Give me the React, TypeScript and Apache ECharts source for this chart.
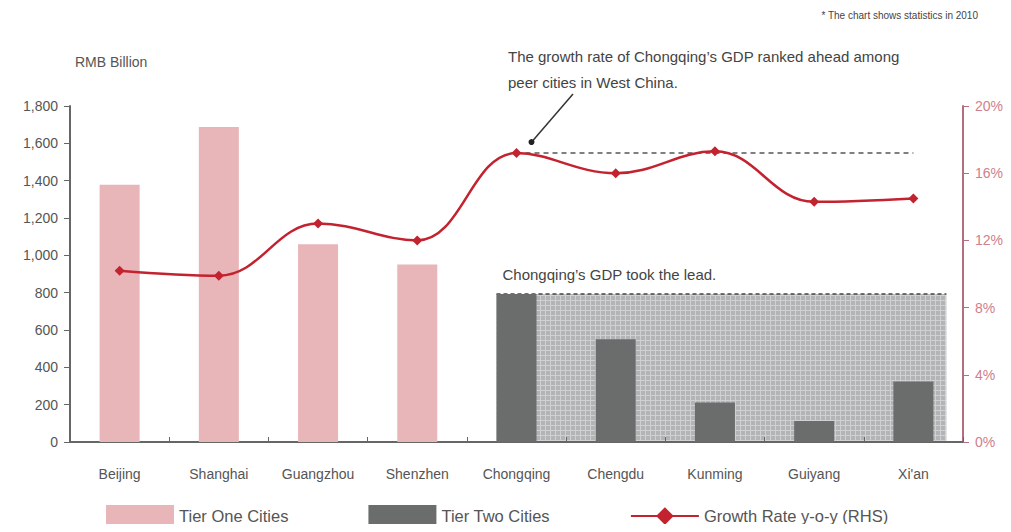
import React, { useEffect, useRef } from "react";
import * as echarts from "echarts";

const categories = ["Beijing", "Shanghai", "Guangzhou", "Shenzhen", "Chongqing", "Chengdu", "Kunming", "Guiyang", "Xi'an"];
const tierOne: (number | string)[] = [1378, 1687, 1060, 951, "-", "-", "-", "-", "-"];
const tierTwo: (number | string)[] = ["-", "-", "-", "-", 793, 551, 212, 112, 324];
const growth = [10.2, 9.9, 13.0, 12.0, 17.2, 16.0, 17.3, 14.3, 14.5];
const leftTicks = { min: 0, max: 1800, interval: 200 };
const rightTicks = { min: 0, max: 20, interval: 4 };

const RED = "#c3222f";
const GREY_TXT = "#555555";

function makePattern(): HTMLCanvasElement {
  const c = document.createElement("canvas");
  c.width = 5;
  c.height = 5;
  const ctx = c.getContext("2d")!;
  ctx.fillStyle = "#b2b4b6";
  ctx.fillRect(0, 0, 5, 5);
  ctx.fillStyle = "#d0d1d2";
  ctx.fillRect(0, 0, 1, 5);
  ctx.fillRect(0, 0, 5, 1);
  return c;
}

export default function App() {
  const ref = useRef<HTMLDivElement>(null);
  useEffect(() => {
    if (!ref.current) return;
    const chart = echarts.init(ref.current, undefined, { renderer: "svg" });
    const font = "Arial, 'Liberation Sans', sans-serif";
    chart.setOption({
      animation: false,
      textStyle: { fontFamily: font },
      grid: { left: 70, right: 48, top: 106, bottom: 90 },
      xAxis: {
        type: "category",
        data: categories,
        axisLine: { lineStyle: { color: "#666", width: 2 } },
        axisTick: { show: true, length: 5, inside: true, lineStyle: { color: "#666" } },
        axisLabel: { color: GREY_TXT, fontSize: 14, margin: 25 },
      },
      yAxis: [
        {
          type: "value",
          ...leftTicks,
          axisLine: { show: true, lineStyle: { color: "#666", width: 2 } },
          axisTick: { show: true, length: 6, lineStyle: { color: "#666" } },
          splitLine: { show: false },
          axisLabel: {
            color: GREY_TXT,
            fontSize: 14,
            margin: 12,
            formatter: (v: number) => v.toLocaleString("en-US"),
          },
        },
        {
          type: "value",
          ...rightTicks,
          position: "right",
          axisLine: { show: true, lineStyle: { color: "#b07080", width: 2 } },
          axisTick: { show: true, length: 6, lineStyle: { color: "#b07080" } },
          splitLine: { show: false },
          axisLabel: { color: "#d0808c", fontSize: 14, margin: 12, formatter: "{value}%" },
        },
      ],
      legend: {
        bottom: 0,
        left: 101,
        itemGap: 80,
        itemWidth: 68,
        itemHeight: 22,
        textStyle: { color: GREY_TXT, fontSize: 16.5 },
        data: [
          { name: "Tier One Cities", icon: "rect" },
          { name: "Tier Two Cities", icon: "rect" },
          { name: "Growth Rate y-o-y (RHS)" },
        ],
      },
      series: [
        {
          name: "Tier One Cities",
          type: "bar",
          stack: "gdp",
          barWidth: 40,
          data: tierOne,
          itemStyle: { color: "#e8b5b9" },
        },
        {
          name: "Tier Two Cities",
          type: "bar",
          stack: "gdp",
          barWidth: 40,
          data: tierTwo,
          itemStyle: { color: "#6b6d6d" },
          z: 3,
        },
        {
          name: "Growth Rate y-o-y (RHS)",
          type: "line",
          yAxisIndex: 1,
          smooth: 0.4,
          data: growth,
          symbol: "diamond",
          symbolSize: 10,
          lineStyle: { color: RED, width: 2.5 },
          itemStyle: { color: RED },
          z: 5,
          markLine: {
            silent: true,
            symbol: "none",
            label: { show: false },
            lineStyle: { color: "#555", type: [5, 4], width: 1.5 },
            data: [
              [
                { coord: [categories[4], growth[4]] },
                { coord: [categories[8], growth[4]] },
              ],
            ],
          },
        },
      ],
    });

    // Highlight region behind tier-two bars, computed from the axes
    const cqIdx = 4;
    const lastIdx = categories.length - 1;
    const cqTop = chart.convertToPixel({ seriesIndex: 1 }, [cqIdx, tierTwo[cqIdx] as number]) as number[];
    const base = chart.convertToPixel({ seriesIndex: 1 }, [cqIdx, 0]) as number[];
    const lastC = chart.convertToPixel({ seriesIndex: 1 }, [lastIdx, 0]) as number[];
    const x0 = cqTop[0] - 20;
    const x1 = lastC[0] + 33;
    const y0 = cqTop[1];
    const y1 = base[1] - 1;
    const cqPt = chart.convertToPixel({ seriesIndex: 2 }, [cqIdx, growth[cqIdx]]) as number[];

    chart.setOption({
      graphic: [
        {
          type: "rect",
          shape: { x: x0, y: y0, width: x1 - x0, height: y1 - y0 },
          style: { fill: { image: makePattern(), repeat: "repeat" } as any },
          z: 0,
          silent: true,
        },
        {
          type: "line",
          shape: { x1: x0, y1: y0, x2: x1, y2: y0 },
          style: { stroke: "#444", lineDash: [4, 3], lineWidth: 1.5 },
          z: 0,
          silent: true,
        },
        {
          type: "text",
          x: x0 + 6,
          y: y0 - 27,
          style: { text: "Chongqing\u2019s GDP took the lead.", fill: "#444", fontSize: 15, fontFamily: font },
        },
        {
          type: "text",
          x: 508,
          y: 43,
          style: {
            text: "The growth rate of Chongqing\u2019s GDP ranked ahead among\npeer cities in West China.",
            fill: "#444",
            fontSize: 15,
            lineHeight: 26,
            fontFamily: font,
          },
        },
        {
          type: "line",
          shape: { x1: 573, y1: 94, x2: cqPt[0] + 16, y2: cqPt[1] - 12 },
          style: { stroke: "#333", lineWidth: 1.5 },
        },
        {
          type: "circle",
          shape: { cx: cqPt[0] + 15, cy: cqPt[1] - 11, r: 3 },
          style: { fill: "#222" },
        },
        {
          type: "text",
          x: 978,
          y: 10,
          style: {
            text: "* The chart shows statistics in 2010",
            fill: "#444",
            fontSize: 10,
            align: "right",
            fontFamily: font,
          },
        },
        {
          type: "text",
          x: 75,
          y: 55,
          style: { text: "RMB Billion", fill: GREY_TXT, fontSize: 14, fontFamily: font },
        },
      ],
    });
    return () => chart.dispose();
  }, []);
  return <div ref={ref} style={{ width: 1011, height: 532, margin: -8 }} />;
}
